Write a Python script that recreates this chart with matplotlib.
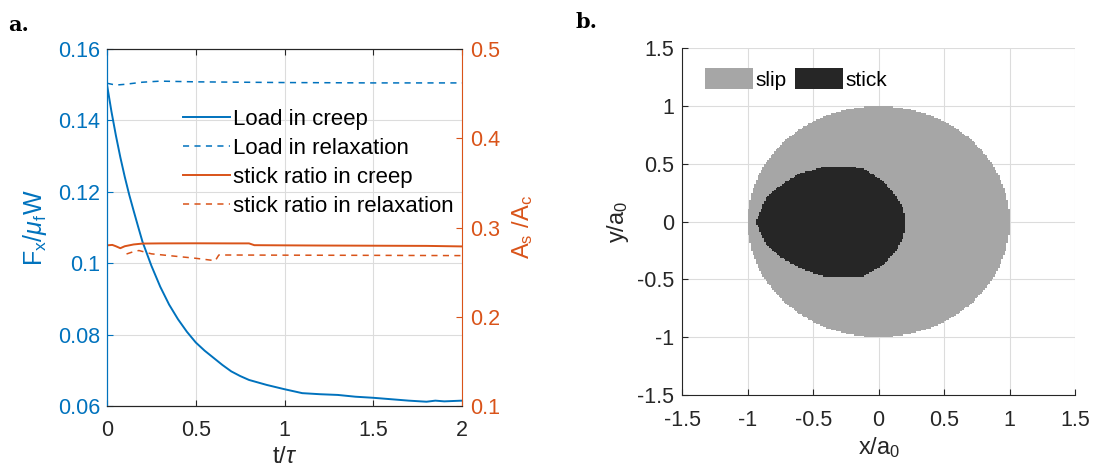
import numpy as np
import matplotlib
matplotlib.use("Agg")
import matplotlib.pyplot as plt
from matplotlib.path import Path
from matplotlib.colors import ListedColormap
from matplotlib.patches import Patch

plt.rcParams['font.family'] = ['Liberation Sans', 'DejaVu Sans']
plt.rcParams['mathtext.fontset'] = 'custom'
plt.rcParams['mathtext.rm'] = 'Liberation Sans'
plt.rcParams['mathtext.it'] = 'Liberation Sans:italic'

# ---------------- Panel a data ----------------
t_creep = [0, 0.025, 0.05, 0.075, 0.1, 0.125, 0.15, 0.175, 0.2, 0.25, 0.3, 0.35,
           0.4, 0.45, 0.5, 0.55, 0.6, 0.65, 0.7, 0.75, 0.8, 0.9, 1.0, 1.1, 1.2,
           1.3, 1.4, 1.5, 1.6, 1.7, 1.8, 1.85, 1.9, 2.0]
load_creep = [0.1500, 0.1425, 0.1358, 0.1297, 0.1242, 0.1192, 0.1147, 0.1103,
              0.1060, 0.0993, 0.0934, 0.0884, 0.0843, 0.0808, 0.0778, 0.0755,
              0.0735, 0.0715, 0.0697, 0.0684, 0.0673, 0.0659, 0.0647, 0.0636,
              0.0633, 0.0631, 0.0626, 0.0623, 0.0619, 0.0615, 0.0612, 0.0615,
              0.0613, 0.0615]

t_relax = [0, 0.05, 0.1, 0.2, 0.3, 0.5, 1.0, 1.5, 2.0]
load_relax = [0.1504, 0.1499, 0.1501, 0.1507, 0.1510, 0.1508, 0.1506, 0.1505, 0.1505]

t_stick_creep = [0, 0.03, 0.05, 0.075, 0.1, 0.15, 0.2, 0.3, 0.5, 0.7, 0.8, 0.83,
                 1.0, 1.2, 1.5, 1.8, 2.0]
stick_creep = [0.2800, 0.2805, 0.2790, 0.2768, 0.2790, 0.2810, 0.2820, 0.2822,
               0.2823, 0.2822, 0.2822, 0.2802, 0.2800, 0.2798, 0.2796, 0.2794, 0.2788]

t_stick_relax = [0.11, 0.15, 0.18, 0.25, 0.4, 0.5, 0.61, 0.63, 1.0, 1.5, 2.0]
stick_relax = [0.2703, 0.2730, 0.2742, 0.2705, 0.2675, 0.2655, 0.2628, 0.2692,
               0.2690, 0.2688, 0.2685]

# ---------------- Panel b data ----------------
contact_radius = 1.0
stick_x = [-0.94, -0.90, -0.855, -0.728, -0.60, -0.41, -0.27, -0.116, 0.037,
           0.139, 0.19, 0.205, 0.19, 0.139, 0.037, -0.116, -0.27, -0.41, -0.60,
           -0.753, -0.855, -0.90]
stick_y = [0.0, 0.10, 0.216, 0.332, 0.419, 0.476, 0.478, 0.462, 0.346, 0.216,
           0.10, -0.015, -0.13, -0.245, -0.375, -0.47, -0.478, -0.476, -0.403,
           -0.303, -0.20, -0.10]

BLUE = '#0072BD'
ORANGE = '#D95319'
DARK = '#262626'
SLIP = '#A6A6A6'
STICK = '#262626'

fig = plt.figure(figsize=(10.94, 4.69), dpi=100)

# ---------------- Panel a ----------------
ax = fig.add_axes([107/1094, 1-406/469, (462-107)/1094, (406-49)/469])
ax2 = ax.twinx()

l1, = ax.plot(t_creep, load_creep, color=BLUE, lw=1.4, label='Load in creep')
l2, = ax.plot(t_relax, load_relax, color=BLUE, lw=1.1, ls=(0, (4, 3.5)),
              label='Load in relaxation')
l3, = ax2.plot(t_stick_creep, stick_creep, color=ORANGE, lw=1.4,
               label='stick ratio in creep')
l4, = ax2.plot(t_stick_relax, stick_relax, color=ORANGE, lw=1.1, ls=(0, (4, 3.5)),
               label='stick ratio in relaxation')

ax.set_xlim(0, 2)
ax.set_ylim(0.06, 0.16)
ax2.set_ylim(0.1, 0.5)
ax.set_xticks([0, 0.5, 1, 1.5, 2])
ax.set_xticklabels(['0', '0.5', '1', '1.5', '2'])
ax.set_yticks([0.06, 0.08, 0.1, 0.12, 0.14, 0.16])
ax.set_yticklabels(['0.06', '0.08', '0.1', '0.12', '0.14', '0.16'])
ax2.set_yticks([0.1, 0.2, 0.3, 0.4, 0.5])
ax2.set_yticklabels(['0.1', '0.2', '0.3', '0.4', '0.5'])
ax.grid(True, color='#DCDCDC', lw=0.8)
ax.set_axisbelow(True)

ax.tick_params(axis='x', direction='in', labelsize=15.5, colors=DARK, length=4,
               top=True, pad=10)
ax.tick_params(axis='y', direction='in', labelsize=15.5, colors=BLUE, length=4, pad=5)
ax2.tick_params(axis='y', direction='in', labelsize=15.5, colors=ORANGE, length=4, pad=6)
for sp in ['top', 'bottom']:
    ax.spines[sp].set_color(DARK)
    ax2.spines[sp].set_color(DARK)
ax.spines['left'].set_color(BLUE)
ax2.spines['left'].set_color(BLUE)
ax2.spines['right'].set_color(ORANGE)
ax.spines['right'].set_visible(False)

ax.set_xlabel(r't/$\tau$', fontsize=17, color=DARK, labelpad=4)
ax.set_ylabel(r'F$_\mathregular{x}$/$\mu_\mathregular{f}$W', fontsize=18,
              color=BLUE, labelpad=6)
ax2.set_ylabel(r'A$_\mathregular{s}$ /A$_\mathregular{c}$', fontsize=17,
               color=ORANGE, labelpad=7)

leg = ax.legend(handles=[l1, l2, l3, l4], loc='upper left',
                bbox_to_anchor=(0.17, 0.875), frameon=False, fontsize=16,
                handlelength=2.1, handletextpad=0.15, labelspacing=0.36,
                borderpad=0.2)
for txt in leg.get_texts():
    txt.set_color('black')

fig.text(8/1094, 1-25/469, 'a.', fontsize=15, fontweight='bold',
         family='DejaVu Serif', va='center', ha='left')

# ---------------- Panel b ----------------
bx = fig.add_axes([682.3/1094, 1-395/469, (1075-682.3)/1094, (395-48.3)/469])
edges_x = np.linspace(-1.5, 1.5, 241)
edges_y = np.linspace(-1.5, 1.5, 241)
gx = 0.5 * (edges_x[:-1] + edges_x[1:])
gy = 0.5 * (edges_y[:-1] + edges_y[1:])
XX, YY = np.meshgrid(gx, gy)
inside_contact = XX**2 + YY**2 <= contact_radius**2
stick_path = Path(np.column_stack([stick_x, stick_y]))
inside_stick = stick_path.contains_points(
    np.column_stack([XX.ravel(), YY.ravel()])).reshape(XX.shape)
state = np.full(XX.shape, np.nan)
state[inside_contact] = 0
state[inside_stick & inside_contact] = 1
bx.pcolormesh(edges_x, edges_y, np.ma.masked_invalid(state),
              cmap=ListedColormap([SLIP, STICK]), vmin=0, vmax=1,
              shading='flat', zorder=2)

bx.set_xlim(-1.5, 1.5)
bx.set_ylim(-1.5, 1.5)
ticks_b = [-1.5, -1, -0.5, 0, 0.5, 1, 1.5]
tlabels_b = ['-1.5', '-1', '-0.5', '0', '0.5', '1', '1.5']
bx.set_xticks(ticks_b)
bx.set_xticklabels(tlabels_b)
bx.set_yticks(ticks_b)
bx.set_yticklabels(tlabels_b)
bx.grid(True, color='#DCDCDC', lw=0.8, zorder=0)
bx.set_axisbelow(True)
bx.spines['top'].set_visible(False)
bx.spines['right'].set_visible(False)
bx.spines['left'].set_color(DARK)
bx.spines['bottom'].set_color(DARK)
bx.tick_params(axis='x', direction='in', labelsize=15.5, colors=DARK, length=4, pad=11)
bx.tick_params(axis='y', direction='in', labelsize=15.5, colors=DARK, length=4, pad=6)
bx.set_xlabel(r'x/a$_\mathregular{0}$', fontsize=17, color=DARK, labelpad=3)
bx.set_ylabel(r'y/a$_\mathregular{0}$', fontsize=17, color=DARK, labelpad=4)

bleg = bx.legend(handles=[Patch(facecolor=SLIP, edgecolor='none', label='slip'),
                          Patch(facecolor=STICK, edgecolor='none', label='stick')],
                 loc='upper left', bbox_to_anchor=(0.02, 0.985), ncol=2,
                 frameon=False, fontsize=15, handlelength=2.3,
                 handleheight=1.2, handletextpad=0.12, columnspacing=0.4,
                 borderpad=0.2)

fig.text(576/1094, 1-22/469, 'b.', fontsize=15, fontweight='bold',
         family='DejaVu Serif', va='center', ha='left')

fig.savefig('out.png', dpi=100)
